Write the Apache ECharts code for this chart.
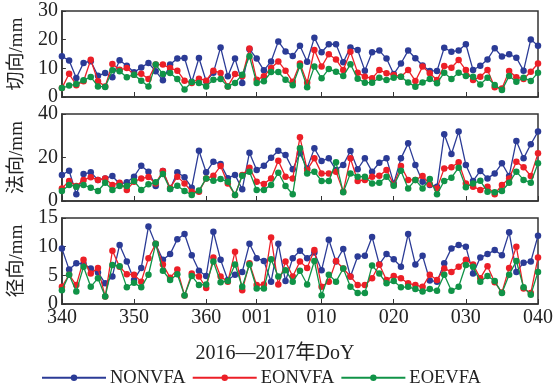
<!DOCTYPE html>
<html>
<head>
<meta charset="utf-8">
<script src="https://cdn.jsdelivr.net/npm/echarts@6/dist/echarts.min.js"></script>
<style>
  html, body { margin: 0; padding: 0; background: #fff; }
  #chart { width: 558px; height: 391px; }
</style>
</head>
<body>
<div id="chart"></div>
<script>
// DoY 340 (2016, leap year) .. 040 (2017)
const startDay = 340;
const daysInYear = 366;
const dayCount = 67;
const days = [];
for (let i = 0; i < dayCount; i++) {
  const d = startDay + i > daysInYear ? startDay + i - daysInYear : startDay + i;
  days.push(String(d).padStart(3, "0"));
}
const tickLabels = ["340", "350", "360", "001", "010", "020", "030", "040"];

const seriesNames = ["NONVFA", "EONVFA", "EOEVFA"];
const colors = ["#2b3b96", "#ec1f27", "#109347"];

// 切向 (along-track)
const alongNON = [14.2, 12.7, 6.6, 11.9, 12.5, 7.4, 8.4, 6.9, 12.8, 10.9, 8.6, 10.3, 11.9, 9, 5.8, 11.3, 13.4, 13.6, 5.2, 13.6, 5.5, 8.5, 17.3, 7.2, 13.4, 4.9, 16.7, 13.4, 9.3, 12.4, 19.4, 15.9,
  14.3, 17.9, 12.3, 20.7, 15.6, 18.4, 18.4, 12.1, 17.3, 16.4, 9.2, 15.6, 16.2, 13.4, 8, 11.7, 16.2, 13.5, 11, 9.1, 9.1, 17.2, 15.8, 16.2, 18.4, 9.4, 10.9, 13.1, 17, 14.1, 14.9, 13.7, 9.2, 20.1, 17.9];
const alongEON = [3.1, 8.1, 4.1, 5.5, 13, 5.5, 3.7, 11.5, 9.5, 10.1, 7.8, 8.1, 6.3, 11.3, 11.3, 10.1, 9.2, 5.7, 4.9, 6.4, 5.7, 9.2, 8.4, 3.7, 8, 7.2, 16.9, 6, 7.2, 10.1, 12.4, 9.2,
  5.3, 11.7, 5, 16.4, 10.6, 14.9, 13.1, 9.4, 15.8, 8.5, 7.1, 6.5, 9.4, 8.3, 7.7, 7.1, 9.4, 5.6, 10.6, 8.3, 5.9, 10.8, 10.2, 12.9, 9.4, 5.9, 7.1, 9.4, 3.4, 3, 9.1, 6.9, 6.3, 8.8, 11.7];
const alongEOE = [3.1, 4, 4.5, 5.8, 7, 3.7, 3.5, 9.3, 9, 6.9, 7.8, 5.7, 3.7, 11.3, 8, 8.4, 6.3, 2.6, 5.2, 4.9, 3.7, 6, 6.3, 3.7, 4.9, 7.8, 14.2, 4.9, 5.5, 8.7, 8.7, 6,
  4.1, 10.9, 3.4, 10.6, 6.5, 9.8, 8.8, 7.3, 11.4, 6.4, 5, 5, 6.7, 5.9, 6.7, 7.1, 5.1, 3.6, 5.1, 6.3, 4.8, 8.5, 6.3, 8.5, 7.3, 7.1, 4.4, 6.7, 4.2, 2.4, 7.3, 5.3, 6.7, 5.6, 8.5];

// 法向 (cross-track)
const crossNON = [12, 13.9, 3.1, 12.4, 13.2, 9.7, 10.4, 11.5, 7.8, 8.6, 11.2, 16.2, 13.5, 6.9, 13.8, 5.5, 13.2, 10.9, 6.1, 23.1, 13.2, 18.1, 17, 10.5, 12, 5.4, 22.2, 14.3, 16.2, 19.9,
  23.1, 21.1, 14.6, 22, 15, 24.2, 18.4, 19.6, 14.3, 16.6, 23, 14.6, 19.6, 13.5, 17.6, 19.6, 8.1, 19.6, 26.5, 16.6, 8.9, 7.4, 6.6, 30.7, 21.6, 31.9, 16.6, 9.2, 13.8, 10.4, 12.7, 17.3, 11.5, 27.6, 19.6, 26.1, 31.9];
const crossEON = [5.8, 9.2, 6.9, 9.7, 10.9, 9.7, 10.4, 7.4, 8.4, 5.1, 8.9, 10.4, 11, 8, 13.8, 6, 11.2, 8.1, 4.3, 4.3, 10.4, 11.6, 16.1, 8.1, 2.8, 12, 15.3, 8.9, 7.8, 10.4,
  18.5, 11.2, 10.4, 29.3, 14.3, 19.6, 12.7, 12.7, 13.5, 4.3, 19.6, 9.2, 9.7, 11.2, 11.6, 14.3, 7.4, 16.1, 9.7, 9.7, 11.5, 7.7, 5.8, 15, 15.5, 17.8, 8.1, 6.6, 5.1, 6.6, 3.1, 7.4, 10.4, 18.1, 15.5, 11.5, 21.9];
const crossEOE = [4.6, 7.4, 6.6, 7.4, 6.1, 4.6, 8.4, 5.1, 6.9, 6.9, 9.2, 5.1, 7.7, 8.6, 12.4, 5.5, 7, 4.6, 2.8, 4.8, 10.4, 9.3, 10.1, 8.9, 2.8, 11.6, 13.5, 5.1, 5.1, 7.4,
  13, 6.9, 3.1, 24.2, 12.7, 13.5, 9.2, 9.2, 17.8, 4, 12.7, 11.2, 11.2, 8.1, 8.4, 11.2, 7, 13.9, 5.8, 9.7, 5.8, 10.1, 3.1, 9.2, 10.7, 15.3, 6.3, 8.1, 9.3, 4.3, 4, 4.6, 8.4, 13.5, 9.7, 8.4, 17.3];

// 径向 (radial)
const radialNON = [9.7, 6, 7.1, 7, 6.2, 5.5, 3.6, 4.8, 10.3, 7.4, 4.2, 6.3, 13.5, 10.4, 7.7, 8.7, 11.3, 12.2, 8.5, 5.8, 4.9, 12.6, 7.7, 4.2, 5.1, 5.6, 10.5, 8, 7.5, 3.9, 10.5,
  4, 8, 9.3, 8, 9, 5.9, 11.2, 7.4, 9.6, 4.8, 8.3, 8.4, 11.7, 6.9, 8.7, 7.8, 6.5, 12.2, 6.9, 8.4, 4.1, 3.9, 7.1, 9.7, 10.3, 10, 5.3, 8.1, 8.7, 9.4, 8.5, 12.5, 5.6, 7.2, 7.4, 11.9];
const radialEON = [3, 5.1, 3.3, 7.7, 5.3, 6.3, 1.3, 9.3, 6.5, 5.2, 5.1, 3.9, 8, 10.5, 6.9, 4.6, 6, 1.5, 5.3, 4.8, 2.8, 8.1, 4.8, 3.9, 9.1, 2.4, 7.1, 3.3, 3.4, 11.6, 3.4,
  7.4, 4.8, 7.4, 6.3, 9.4, 3, 3.9, 7.5, 6.2, 4.8, 3.3, 3.3, 4.5, 6.9, 4.2, 4.9, 4.5, 3.6, 3.3, 3, 5.1, 4.2, 6.2, 5.6, 6.5, 7.7, 6.9, 4.5, 6.6, 3.8, 2, 6.3, 10, 2.7, 1.9, 8.1];
const radialEOE = [2.4, 5.1, 2.2, 6.5, 3, 4.5, 1.3, 6.8, 6.6, 2.9, 3.7, 2.9, 5.1, 10.5, 5.8, 4.2, 5.2, 1.5, 4.9, 3.3, 3.4, 7.4, 3.8, 4, 6.9, 3, 6.9, 2.7, 2.7, 7.8, 4.8,
  5.9, 3.9, 5.8, 3.4, 7.5, 1.5, 5.1, 3.9, 6.2, 3, 1.9, 1.9, 6.7, 5.3, 3.6, 4, 2.9, 3, 2.6, 2.2, 2.6, 2.3, 5.1, 2.3, 3, 6.8, 6.5, 3.9, 4.9, 4, 1.9, 5.1, 7.5, 2.9, 1.6, 5.6];

const panelNames = ["切向/mm", "法向/mm", "径向/mm"];
const panelMax = [30, 40, 15];
const panelStep = [10, 20, 5];
const panelData = [
  [alongNON, alongEON, alongEOE],
  [crossNON, crossEON, crossEOE],
  [radialNON, radialEON, radialEOE],
];

const serif = "'Liberation Serif', 'Times New Roman', 'Noto Sans CJK SC', serif";
const textColor = "#222";
const frameColor = "#333";
const gridTops = [11, 114, 218];
const gridHeights = [86, 87, 86];

const isTick = (idx, val) => tickLabels.includes(days[idx]);

const chart = echarts.init(document.getElementById("chart"));
chart.setOption({
  animation: false,
  backgroundColor: "#fff",
  color: colors,
  grid: gridTops.map((top, k) => ({
    left: 59,
    right: 20,
    top: top,
    height: gridHeights[k],
    show: true,
    borderColor: frameColor,
    borderWidth: 1.5,
  })),
  xAxis: gridTops.map((_, k) => ({
    type: "category",
    gridIndex: k,
    data: days,
    boundaryGap: false,
    name: k === 2 ? "2016—2017年DoY" : "",
    nameLocation: "middle",
    nameGap: 40,
    nameTextStyle: { fontFamily: serif, fontSize: 20, color: textColor, padding: [0, 50, 0, 0] },
    axisLine: { show: true, lineStyle: { color: frameColor, width: 1.5 } },
    axisTick: { show: true, inside: true, length: 5, interval: isTick, lineStyle: { color: frameColor } },
    axisLabel: {
      show: k === 2,
      interval: isTick,
      margin: 4,
      fontFamily: serif,
      fontSize: 20,
      color: textColor,
    },
    splitLine: { show: false },
  })),
  yAxis: gridTops.map((_, k) => ({
    type: "value",
    gridIndex: k,
    min: 0,
    max: panelMax[k],
    interval: panelStep[k],
    name: panelNames[k],
    nameLocation: "middle",
    nameGap: 29,
    nameTextStyle: { fontFamily: serif, fontSize: 19, color: textColor },
    axisLine: { show: true, lineStyle: { color: frameColor, width: 1.5 } },
    axisTick: { show: true, inside: true, length: 4, lineStyle: { color: frameColor } },
    axisLabel: { margin: 4, fontFamily: serif, fontSize: 20, color: textColor },
    splitLine: { show: false },
  })),
  legend: {
    data: seriesNames,
    bottom: -1,
    left: 36,
    itemWidth: 64,
    itemHeight: 8,
    itemGap: 6,
    textStyle: { fontFamily: serif, fontSize: 18.5, color: textColor, padding: [0, 0, 0, -1] },
  },
  series: panelData.flatMap((group, k) =>
    group.map((values, s) => ({
      name: seriesNames[s],
      type: "line",
      xAxisIndex: k,
      yAxisIndex: k,
      data: values,
      symbol: "circle",
      symbolSize: 6.5,
      showSymbol: true,
      showAllSymbol: true,
      lineStyle: { width: 1.3, color: colors[s] },
      itemStyle: { color: colors[s] },
      z: 2 + s,
    }))
  ),
});
</script>
</body>
</html>
